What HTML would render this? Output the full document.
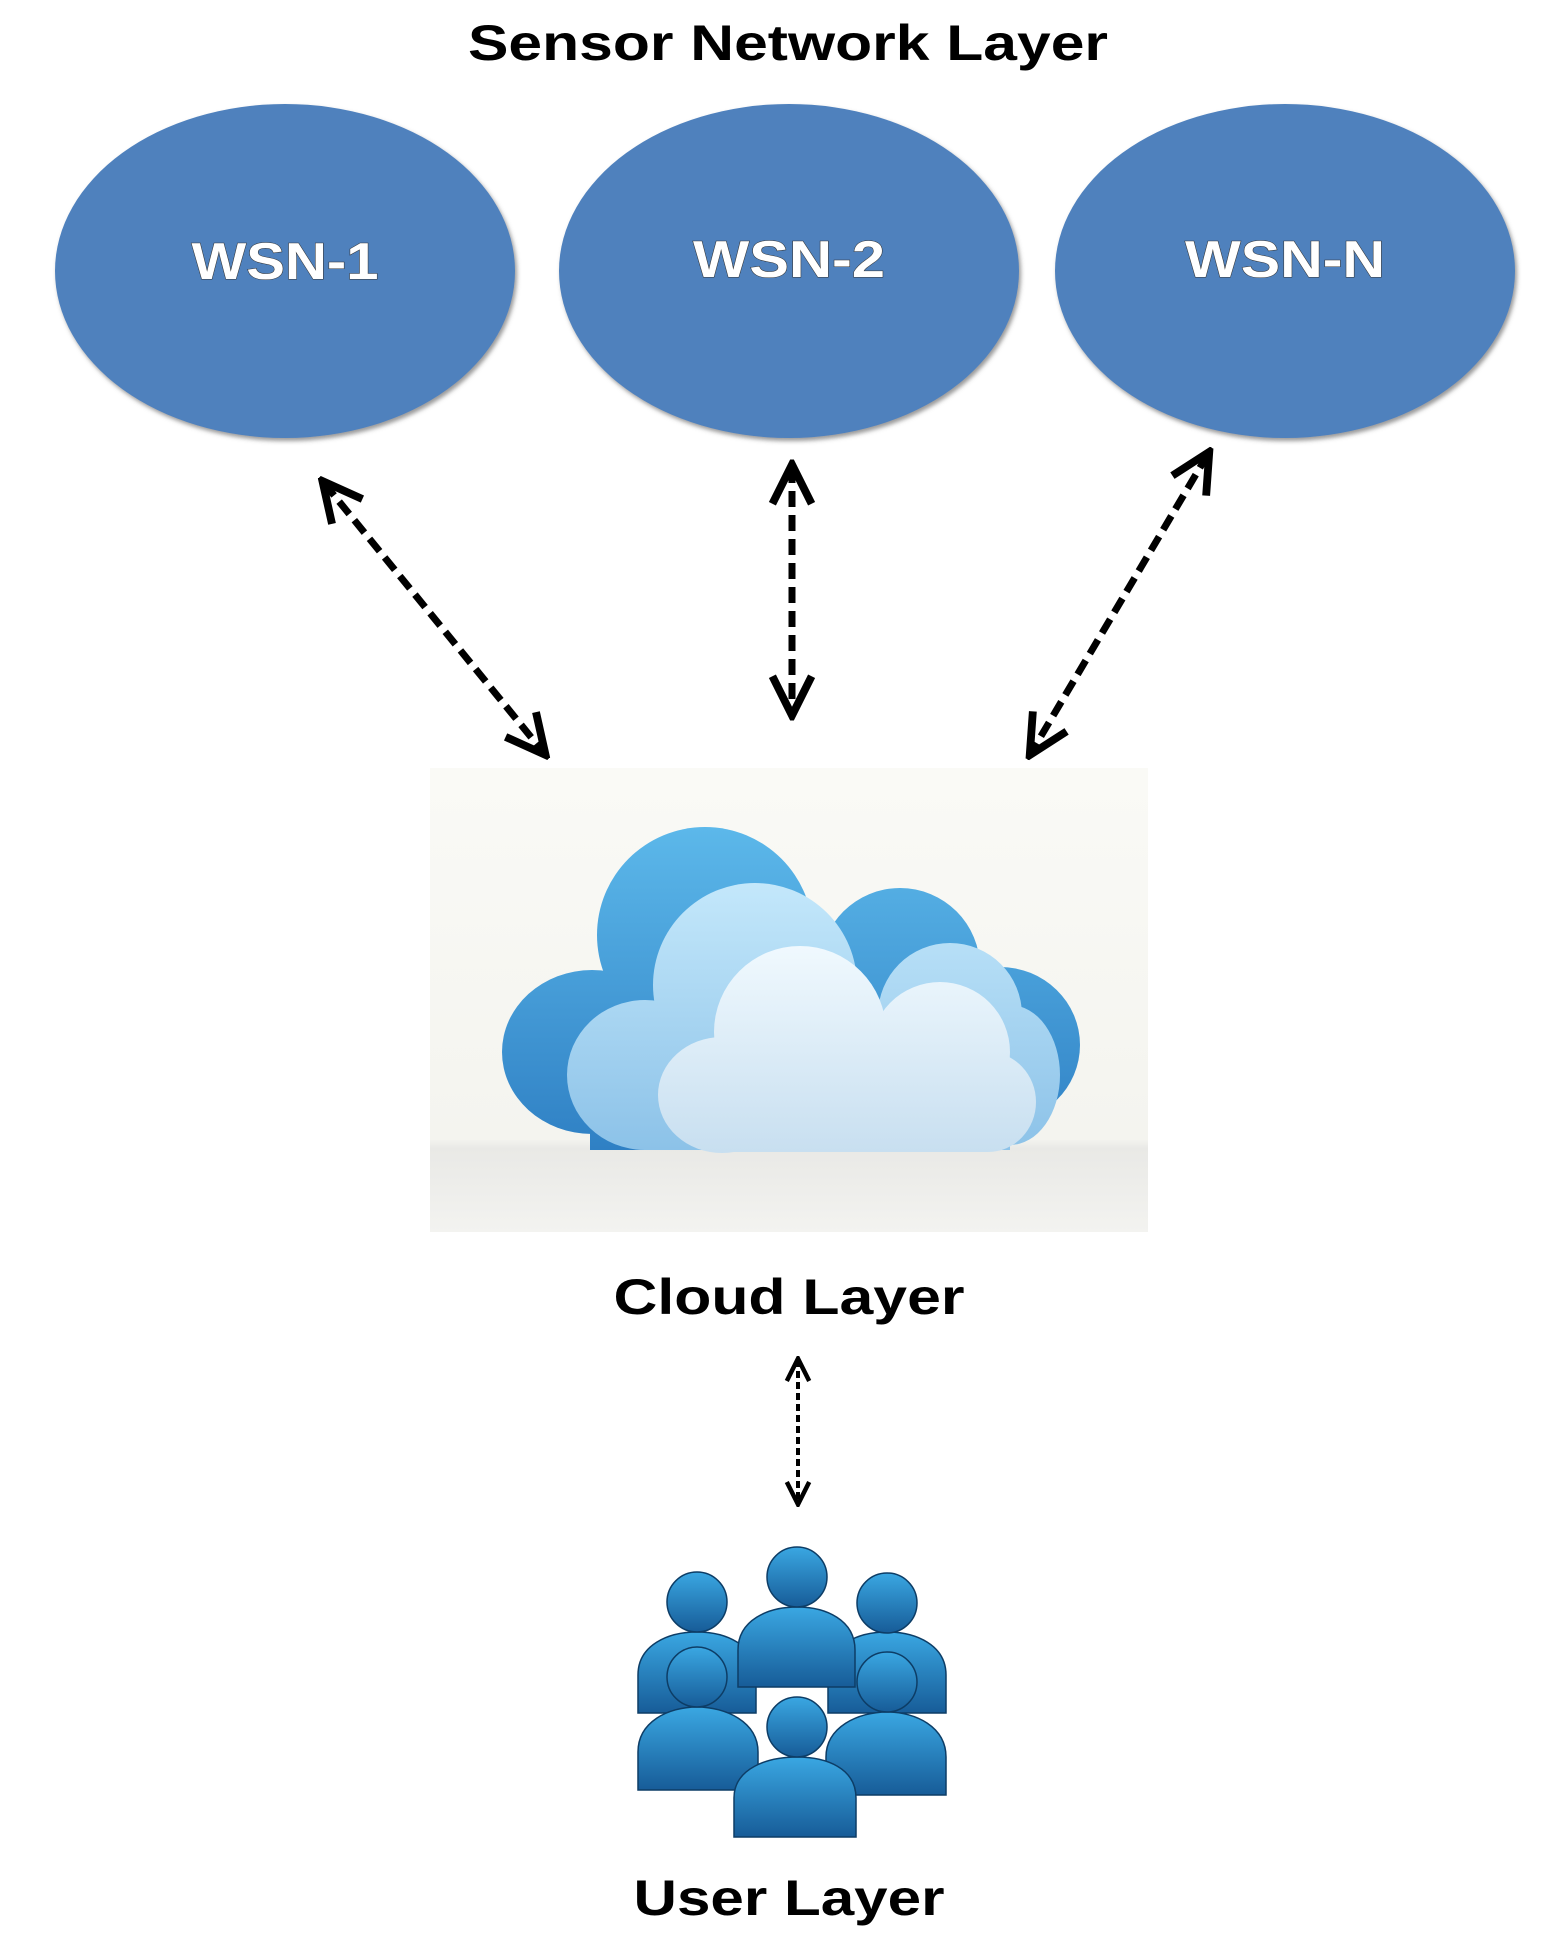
<!DOCTYPE html>
<html><head><meta charset="utf-8"><style>
html,body{margin:0;padding:0;background:#fff;}
svg{display:block;}
text{font-family:"Liberation Sans",Arial,sans-serif;font-weight:bold;}
</style></head><body>
<svg width="1544" height="1956" viewBox="0 0 1544 1956" xmlns="http://www.w3.org/2000/svg">
<defs>
<linearGradient id="gBack" gradientUnits="userSpaceOnUse" x1="0" y1="827" x2="0" y2="1150"><stop offset="0" stop-color="#5cb8ea"/><stop offset="1" stop-color="#2f80c4"/></linearGradient>
<linearGradient id="gMid" gradientUnits="userSpaceOnUse" x1="0" y1="880" x2="0" y2="1150"><stop offset="0" stop-color="#c4e8fb"/><stop offset="1" stop-color="#8cc2e8"/></linearGradient>
<linearGradient id="gFront" gradientUnits="userSpaceOnUse" x1="0" y1="946" x2="0" y2="1152"><stop offset="0" stop-color="#f0f9fe"/><stop offset="1" stop-color="#c8dff0"/></linearGradient>
<linearGradient id="gBox" x1="0" y1="0" x2="0" y2="1"><stop offset="0" stop-color="#fafaf6"/><stop offset="0.8" stop-color="#f4f4ef"/><stop offset="0.82" stop-color="#e9e9e6"/><stop offset="1" stop-color="#f3f3f0"/></linearGradient>
<linearGradient id="gP" x1="0" y1="0" x2="0" y2="1"><stop offset="0" stop-color="#3aa7e2"/><stop offset="1" stop-color="#175c98"/></linearGradient>
<marker id="ah" viewBox="0 0 20 20" refX="17" refY="10" markerWidth="7" markerHeight="7" markerUnits="strokeWidth" orient="auto-start-reverse">
<path d="M2,2 L18,10 L2,18" fill="none" stroke="#000" stroke-width="3.2"/>
</marker>
<filter id="sh"><feDropShadow dx="2" dy="3" stdDeviation="2" flood-color="#555" flood-opacity="0.6"/></filter>
</defs>

<text x="788" y="60" font-size="50" text-anchor="middle" textLength="640" lengthAdjust="spacingAndGlyphs" fill="#000">Sensor Network Layer</text>

<g filter="url(#sh)">
<ellipse cx="285" cy="271" rx="230" ry="167" fill="#4f81bd"/>
<ellipse cx="789" cy="271" rx="230" ry="167" fill="#4f81bd"/>
<ellipse cx="1285" cy="271" rx="230" ry="167" fill="#4f81bd"/>
</g>
<g fill="#fff" font-size="52" text-anchor="middle" style="paint-order:stroke" stroke="#333" stroke-width="1">
<text x="285" y="279" textLength="187" lengthAdjust="spacingAndGlyphs">WSN-1</text>
<text x="789" y="277" textLength="192" lengthAdjust="spacingAndGlyphs">WSN-2</text>
<text x="1285" y="277" textLength="200" lengthAdjust="spacingAndGlyphs">WSN-N</text>
</g>

<g stroke="#000" stroke-width="7" stroke-dasharray="16,8" fill="none">
<line x1="324" y1="483" x2="544" y2="753" marker-start="url(#ah)" marker-end="url(#ah)"/>
<line x1="792" y1="467" x2="792" y2="713" marker-start="url(#ah)" marker-end="url(#ah)"/>
<line x1="1208" y1="454" x2="1031" y2="753" marker-start="url(#ah)" marker-end="url(#ah)"/>
</g>

<rect x="430" y="768" width="718" height="464" fill="url(#gBox)"/>
<g fill="url(#gBack)">
<ellipse cx="592" cy="1052" rx="90" ry="82"/>
<circle cx="705" cy="935" r="108"/>
<circle cx="900" cy="968" r="80"/>
<ellipse cx="1000" cy="1045" rx="80" ry="78"/>
<rect x="590" y="1000" width="410" height="150"/>
</g>
<g fill="url(#gMid)">
<ellipse cx="645" cy="1075" rx="78" ry="75"/>
<circle cx="755" cy="985" r="102"/>
<circle cx="950" cy="1015" r="72"/>
<ellipse cx="1010" cy="1075" rx="50" ry="70"/>
<rect x="645" y="1060" width="365" height="90"/>
</g>
<g fill="url(#gFront)">
<ellipse cx="722" cy="1095" rx="64" ry="58"/>
<circle cx="800" cy="1032" r="86"/>
<circle cx="940" cy="1052" r="70"/>
<ellipse cx="988" cy="1102" rx="48" ry="50"/>
<rect x="722" y="1060" width="266" height="92"/>
</g>

<text x="789" y="1314" font-size="50" text-anchor="middle" textLength="351" lengthAdjust="spacingAndGlyphs" fill="#000">Cloud Layer</text>

<line x1="798" y1="1360" x2="798" y2="1503" stroke="#000" stroke-width="4" stroke-dasharray="7,4" marker-start="url(#ah)" marker-end="url(#ah)"/>

<g fill="url(#gP)" stroke="#0d3d66" stroke-width="1.5">
<path d="M638,1713 L638,1675 C638,1645 668,1632 697,1632 C726,1632 756,1645 756,1675 L756,1713 Z"/><circle cx="697" cy="1602" r="30"/>
<path d="M828,1713 L828,1675 C828,1645 858,1632 887,1632 C916,1632 946,1645 946,1675 L946,1713 Z"/><circle cx="887" cy="1603" r="30"/>
<path d="M738,1687 L738,1650 C738,1620 768,1607 797,1607 C826,1607 855,1620 855,1650 L855,1687 Z"/><circle cx="797" cy="1577" r="30"/>
<path d="M638,1790 L638,1752 C638,1722 668,1707 697,1707 C726,1707 758,1722 758,1752 L758,1790 Z"/><circle cx="697" cy="1677" r="30"/>
<path d="M826,1795 L826,1757 C826,1727 858,1712 887,1712 C916,1712 946,1727 946,1757 L946,1795 Z"/><circle cx="887" cy="1682" r="30"/>
<path d="M734,1837 L734,1798 C734,1768 768,1757 797,1757 C826,1757 856,1768 856,1798 L856,1837 Z"/><circle cx="797" cy="1727" r="30"/>
</g>

<text x="789" y="1915" font-size="50" text-anchor="middle" textLength="311" lengthAdjust="spacingAndGlyphs" fill="#000">User Layer</text>
</svg>
</body></html>
